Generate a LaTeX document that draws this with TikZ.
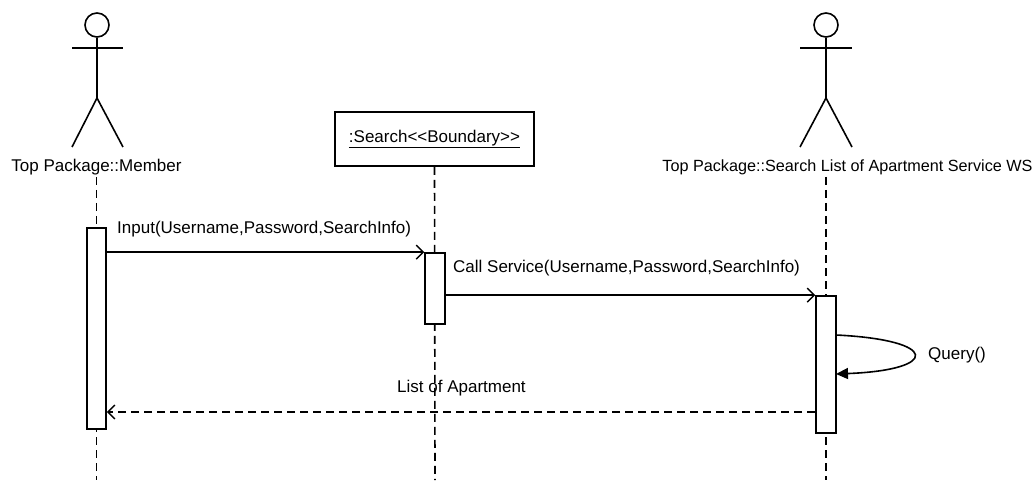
\documentclass[tikz,border=0pt]{standalone}
\usepackage{fontspec}
\setmainfont{Liberation Sans}
\usetikzlibrary{arrows.meta}
\begin{document}
\begin{tikzpicture}[x=1pt,y=-1pt,
  every node/.style={font=\fontsize{17}{20}\selectfont},
  base/.style={line width=1.6pt},
  head/.style={base,draw,circle,minimum size=24pt,inner sep=0pt},
  lifeline/.style={line width=1.6pt,dash pattern=on 8pt off 5pt},
  act/.style={base,draw,fill=white,rectangle,inner sep=0pt},
  msg/.style={base,-{Straight Barb[length=7pt,width=14pt,line width=1.4pt]}},
  ret/.style={base,dash pattern=on 8pt off 5pt,-{Straight Barb[length=7pt,width=14pt,line width=1.4pt]}},
  selfmsg/.style={base,-{Triangle[length=12pt,width=11pt]}},
  lbl/.style={inner sep=0pt}
]
\useasboundingbox (0,0) rectangle (1035,486);

% Member actor
\node[head] (hM) at (97,25) {};
\coordinate (hipM) at (97,98);
\coordinate (alM) at (72,48);
\coordinate (arM) at (123,48);
\coordinate (llM) at (72,147);
\coordinate (lrM) at (123,147);
\draw[base] (hM.south) -- (hipM);
\draw[base] (alM) -- (arM);
\draw[base] (llM) -- (hipM) -- (lrM);
\node[lbl] (lM) at (96.5,167) {Top Package::Member};

% WS actor
\node[head] (hW) at (826,25) {};
\coordinate (hipW) at (826,98);
\coordinate (alW) at (800,48);
\coordinate (arW) at (852,48);
\coordinate (llW) at (800,147);
\coordinate (lrW) at (852,147);
\draw[base] (hW.south) -- (hipW);
\draw[base] (alW) -- (arW);
\draw[base] (llW) -- (hipW) -- (lrW);
\node[lbl,font=\fontsize{16.2}{19}\selectfont] (lW) at (847.5,167) {Top Package::Search List of Apartment Service WS};

% Boundary object
\node[base,draw,rectangle,minimum width=199pt,minimum height=54pt,inner sep=0pt] (bS) at (434.5,139) {\underline{:Search<\kern0pt<Boundary>\kern0pt>}};

% lifeline ends
\coordinate (endM) at (96.5,480);
\coordinate (endS) at (435,480);
\coordinate (endW) at (826,480);
\coordinate (topM) at (96.5,177);
\coordinate (topW) at (826,177);

\draw[lifeline] (topM) -- (endM);
\draw[lifeline] (bS.south) -- (endS);
\draw[lifeline] (topW) -- (endW);

% activation boxes
\node[act,minimum width=19pt,minimum height=201pt] (actM) at (96.5,328.5) {};
\node[act,minimum width=20pt,minimum height=71pt] (actS) at (435,288.5) {};
\node[act,minimum width=20pt,minimum height=137pt] (actW) at (826,364.5) {};

% messages
\draw[msg] (actM.east |- actS.north) -- (actS.north west);
\node[lbl,anchor=west] (t1) at (117,229) {Input(Username,Password,SearchInfo)};

\draw[msg] (actS.east |- actW.north) -- (actW.north west);
\node[lbl,anchor=west] (t2) at (453,268) {Call Service(Username,Password,SearchInfo)};

\coordinate (s1) at (836,335);
\coordinate (s2) at (836,374);
\draw[selfmsg] (s1) .. controls (940,340) and (940,370) .. (s2);
\node[lbl,anchor=west] (t3) at (928,355) {Query()};

\coordinate (rety) at (0,412);
\draw[ret] (actW.west |- rety) -- (actM.east |- rety);
\node[lbl,anchor=west] (t4) at (397,388) {List of Apartment};
\end{tikzpicture}
\end{document}
